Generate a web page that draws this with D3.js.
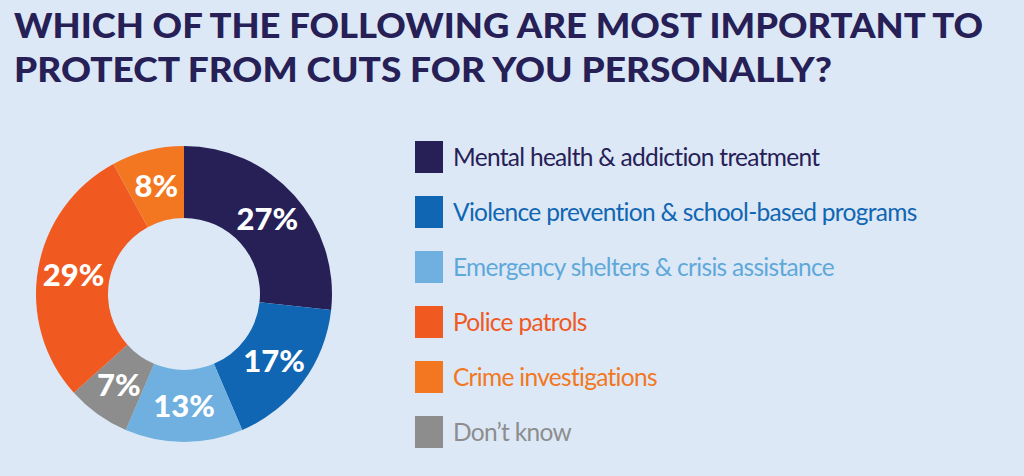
<!DOCTYPE html>
<html>
<head>
<meta charset="utf-8">
<script src="https://cdn.jsdelivr.net/npm/d3@7"></script>
<style>
  html, body { margin: 0; padding: 0; background: #dce8f6; }
  svg { display: block; }
</style>
</head>
<body>
<div id="viz"></div>
<script>
const width = 1024;
const height = 476;

// Data
const titleLines = ['WHICH OF THE FOLLOWING ARE MOST IMPORTANT TO', 'PROTECT FROM CUTS FOR YOU PERSONALLY?'];
const categories = [
  'Mental health & addiction treatment',
  'Violence prevention & school-based programs',
  'Emergency shelters & crisis assistance',
  'Police patrols',
  'Crime investigations',
  'Don\u2019t know'
];
const values = [27, 17, 13, 29, 8, 7];
// order the slices appear clockwise from 12 o'clock
const sliceOrder = [0, 1, 2, 5, 3, 4];
const colors = ['#262056', '#1066b2', '#6fb0e0', '#f0591f', '#f37720', '#8d8d8d'];
const textColors = ['#262056', '#1066b2', '#5fa8da', '#f0591f', '#f37720', '#8d8d8d'];

// Layout
const titleWidths = [969, 818]; // the original uses a wider heavy face
const cx = 184, cy = 294;
const outerR = 148, innerR = 76;

const svg = d3.select('#viz')
  .append('svg')
    .attr('width', width)
    .attr('height', height);

svg.append('rect')
  .attr('width', width)
  .attr('height', height)
  .attr('fill', '#dce8f6');

// Title
svg.append('g')
  .selectAll('text')
  .data(titleLines)
  .join('text')
    .attr('x', 14)
    .attr('y', (d, i) => 38 + i * 44)
    .attr('textLength', (d, i) => titleWidths[i])
    .attr('lengthAdjust', 'spacingAndGlyphs')
    .attr('fill', '#262056')
    .style('font-family', 'Lato, sans-serif')
    .style('font-weight', 900)
    .style('font-size', '34px')
    .text(d => d);

// Donut
const pie = d3.pie()
  .sort(null)
  .value(i => values[i]);
const arc = d3.arc()
  .innerRadius(innerR)
  .outerRadius(outerR);
const labelArc = d3.arc()
  .innerRadius((innerR + outerR) / 2)
  .outerRadius((innerR + outerR) / 2);

const arcs = pie(sliceOrder);

const donut = svg.append('g')
  .attr('transform', `translate(${cx}, ${cy})`);

donut.selectAll('path')
  .data(arcs)
  .join('path')
    .attr('d', arc)
    .attr('fill', d => colors[d.data]);

donut.selectAll('text')
  .data(arcs)
  .join('text')
    .attr('transform', d => `translate(${labelArc.centroid(d)})`)
    .attr('text-anchor', 'middle')
    .attr('dy', '0.36em')
    .attr('fill', '#ffffff')
    .style('font-family', 'Lato, sans-serif')
    .style('font-weight', 900)
    .style('font-size', '31px')
    .text(d => values[d.data] + '%');

// Legend
const yLegend = d3.scaleBand()
  .domain(d3.range(categories.length))
  .range([130, 460]);

const legend = svg.append('g')
  .selectAll('g')
  .data(categories)
  .join('g')
    .attr('transform', (d, i) => `translate(415, ${yLegend(i)})`);

legend.append('rect')
  .attr('x', 0)
  .attr('y', 11)
  .attr('width', 28)
  .attr('height', 32)
  .attr('fill', (d, i) => colors[i]);

legend.append('text')
  .attr('x', 38)
  .attr('y', 36)
  .attr('fill', (d, i) => textColors[i])
  .style('font-family', 'Lato, sans-serif')
  .style('font-size', '24.5px')
  .style('letter-spacing', '-0.7px')
  .text(d => d);
</script>
</body>
</html>
